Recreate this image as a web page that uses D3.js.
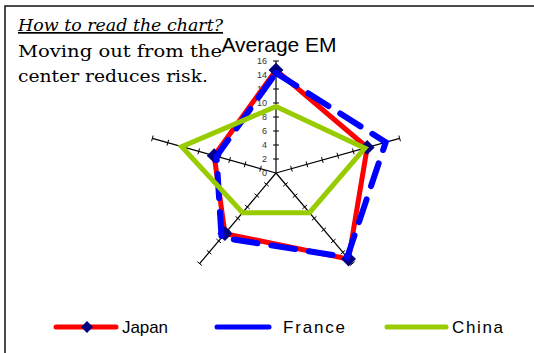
<!DOCTYPE html>
<html>
<head>
<meta charset="utf-8">
<script src="https://cdn.jsdelivr.net/npm/d3@7"></script>
<style>
  body { margin: 0; background: #fff; }
  svg { display: block; }
</style>
</head>
<body>
<script>
// DATA
const AXES = [0, 1, 2, 3, 4];            // five unlabeled spokes, clockwise from top
const TICKS = [0, 2, 4, 6, 8, 10, 12, 14, 16];
const JAPAN = [14.7, 11.8, 15.2, 10.7, 8.0];
const FRANCE = [14.3, 14.2, 14.9, 11.4, 7.7];
const CHINA = [9.5, 11.5, 7.0, 7.0, 12.2];
const SERIES_NAMES = ['Japan', 'France', 'China'];

// CONSTANTS
const WIDTH = 534;
const HEIGHT = 353;
const CX = 276;
const CY = 173;
const RX = 130;
const RY = 112;
const SERIF = '"DejaVu Serif", "Liberation Serif", serif';

const svg = d3.select('body').append('svg')
  .attr('width', WIDTH)
  .attr('height', HEIGHT);

svg.append('rect')
  .attr('x', 5).attr('y', 6)
  .attr('width', 540).attr('height', 360)
  .attr('fill', '#fff')
  .attr('stroke', '#111')
  .attr('stroke-width', 1.5);

const R = d3.scaleLinear().domain([0, 16]).range([0, 1]);
const ANGLE = d3.scaleLinear().domain([0, AXES.length]).range([0, 2 * Math.PI]);

function px(i, v) { return CX + RX * R(v) * Math.sin(ANGLE(i)); }
function py(i, v) { return CY - RY * R(v) * Math.cos(ANGLE(i)); }

// AXES + TICKS
const axisG = svg.append('g');
AXES.forEach(i => {
  axisG.append('line')
    .attr('x1', CX).attr('y1', CY)
    .attr('x2', px(i, 16)).attr('y2', py(i, 16))
    .attr('stroke', '#000').attr('stroke-width', 1.2);
  const dx = px(i, 16) - CX, dy = py(i, 16) - CY;
  const len = Math.sqrt(dx * dx + dy * dy);
  const nx = -dy / len * 3, ny = dx / len * 3;
  TICKS.slice(1).forEach(t => {
    axisG.append('line')
      .attr('x1', px(i, t) - nx).attr('y1', py(i, t) - ny)
      .attr('x2', px(i, t) + nx).attr('y2', py(i, t) + ny)
      .attr('stroke', '#000').attr('stroke-width', 1);
  });
});

axisG.selectAll('text.tick')
  .data(TICKS)
  .enter().append('text')
  .attr('class', 'tick')
  .attr('x', CX - 9)
  .attr('y', d => py(0, d))
  .attr('dy', '0.35em')
  .attr('text-anchor', 'end')
  .style('font', '9px "Liberation Sans", Arial, sans-serif')
  .attr('fill', '#333')
  .text(d => d);

// SERIES
const line = d3.line()
  .x((d, i) => px(i, d))
  .y((d, i) => py(i, d))
  .curve(d3.curveLinearClosed);

svg.append('path')
  .attr('d', line(JAPAN))
  .attr('fill', 'none')
  .attr('stroke', '#ff0000')
  .attr('stroke-width', 5)
  .attr('stroke-linejoin', 'round');

svg.selectAll('path.marker')
  .data(JAPAN)
  .enter().append('path')
  .attr('class', 'marker')
  .attr('d', d3.symbol().type(d3.symbolSquare).size(110))
  .attr('transform', (d, i) => 'translate(' + px(i, d) + ',' + py(i, d) + ') rotate(45)')
  .attr('fill', '#000080');

svg.append('path')
  .attr('d', line(FRANCE))
  .attr('fill', 'none')
  .attr('stroke', '#0000ff')
  .attr('stroke-width', 6)
  .attr('stroke-linecap', 'round')
  .attr('stroke-dasharray', '24,14');

svg.append('path')
  .attr('d', line(CHINA))
  .attr('fill', 'none')
  .attr('stroke', '#99cc00')
  .attr('stroke-width', 5)
  .attr('stroke-linejoin', 'miter');

// TITLE
svg.append('text')
  .attr('x', 279).attr('y', 52)
  .attr('text-anchor', 'middle')
  .style('font', '21px "Liberation Sans", Arial, sans-serif')
  .text('Average EM');

// NOTE
svg.append('text')
  .attr('x', 18).attr('y', 31)
  .attr('textLength', 205).attr('lengthAdjust', 'spacingAndGlyphs')
  .style('font', 'italic 17px ' + SERIF)
  .style('text-decoration', 'underline')
  .text('How to read the chart?');
svg.append('text')
  .attr('x', 18).attr('y', 57)
  .attr('textLength', 204).attr('lengthAdjust', 'spacingAndGlyphs')
  .style('font', '17px ' + SERIF)
  .text('Moving out from the');
svg.append('text')
  .attr('x', 18).attr('y', 82)
  .attr('textLength', 190).attr('lengthAdjust', 'spacingAndGlyphs')
  .style('font', '17px ' + SERIF)
  .text('center reduces risk.');

// LEGEND
const LEGEND = [
  { name: SERIES_NAMES[0], color: '#ff0000', x1: 56, x2: 116, tx: 122, tw: 46, marker: true },
  { name: SERIES_NAMES[1], color: '#0000ff', x1: 217, x2: 269, tx: 283, tw: 62, marker: false },
  { name: SERIES_NAMES[2], color: '#99cc00', x1: 387, x2: 446, tx: 452, tw: 51, marker: false }
];
const legend = svg.append('g').selectAll('g').data(LEGEND).enter().append('g');
legend.append('line')
  .attr('x1', d => d.x1).attr('x2', d => d.x2)
  .attr('y1', 327).attr('y2', 327)
  .attr('stroke', d => d.color)
  .attr('stroke-width', 5)
  .attr('stroke-linecap', 'round');
legend.filter(d => d.marker).append('path')
  .attr('d', d3.symbol().type(d3.symbolSquare).size(70))
  .attr('transform', d => 'translate(' + ((d.x1 + d.x2) / 2 + 1) + ',327) rotate(45)')
  .attr('fill', '#000080');
legend.append('text')
  .attr('x', d => d.tx).attr('y', 333)
  .attr('textLength', d => d.tw).attr('lengthAdjust', 'spacing')
  .style('font', '17px "Liberation Sans", Arial, sans-serif')
  .text(d => d.name);
</script>
</body>
</html>
